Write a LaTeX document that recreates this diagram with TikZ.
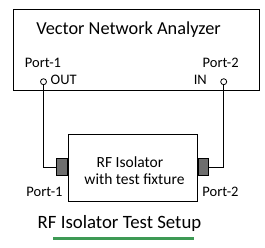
\documentclass[tikz,border=0pt]{standalone}
\usepackage{fontspec}
\setmainfont{Carlito}
\definecolor{fixgray}{HTML}{6E6E6E}
\definecolor{linegreen}{HTML}{3E9A55}
\begin{document}
\begin{tikzpicture}[x=1pt,y=-1pt,
  box/.style={draw=black,line width=1pt,fill=white},
  conn/.style={draw=black,line width=0.9pt,fill=fixgray},
  wire/.style={draw=black,line width=0.9pt},
  port/.style={circle,draw=black,line width=0.8pt,fill=white,inner sep=0pt,minimum size=6pt},
  blbl/.style={inner sep=0pt,font=\fontsize{14.5}{16}\selectfont},
  dlbl/.style={inner sep=0pt,font=\fontsize{15.5}{17}\selectfont}]
\useasboundingbox (0,0) rectangle (265,247);
\fill[white] (0,0) rectangle (265,247);
% VNA box
\node[box,minimum width=246pt,minimum height=81pt,anchor=north west,inner sep=0pt] (vna) at (13,9) {};
\node[inner sep=0pt,font=\fontsize{18.3}{20}\selectfont] (vnat) at (128.5,30) {Vector Network Analyzer};
\node[blbl] (p1) at (43,63.3) {Port-1};
\node[blbl,anchor=west] (out) at (50.5,80) {OUT};
\node[blbl] (p2) at (220.7,63.3) {Port-2};
\node[blbl,anchor=east] (in) at (207,80) {IN};
\node[port] (c1) at (43.5,81.7) {};
\node[port] (c2) at (223.7,81.7) {};
% DUT box
\node[box,minimum width=129pt,minimum height=67pt,anchor=north west,inner sep=0pt] (dut) at (68,134) {};
\node[dlbl] (dut1) at (130,162) {RF Isolator};
\node[dlbl] (dut2) at (134.5,179) {with test fixture};
\node[conn,minimum width=11pt,minimum height=17pt,inner sep=0pt,anchor=east] (g1) at (dut.west |- 0,167) {};
\node[conn,minimum width=10pt,minimum height=17pt,inner sep=0pt,anchor=west] (g2) at (dut.east |- 0,167) {};
\node[blbl] (bp1) at (44.5,191.5) {Port-1};
\node[blbl] (bp2) at (220.5,191.5) {Port-2};
% wires
\draw[wire] (c1.south) |- (g1.west);
\draw[wire] (c2.south) |- (g2.east);
% title
\node[inner sep=0pt,font=\fontsize{18.8}{20}\selectfont] (title) at (119.5,223) {RF Isolator Test Setup};
\coordinate (gl) at (53,238.3);
\coordinate (gr) at (194.3,238.3);
\draw[linegreen,line width=2.7pt] (gl) -- (gr);
\end{tikzpicture}
\end{document}
